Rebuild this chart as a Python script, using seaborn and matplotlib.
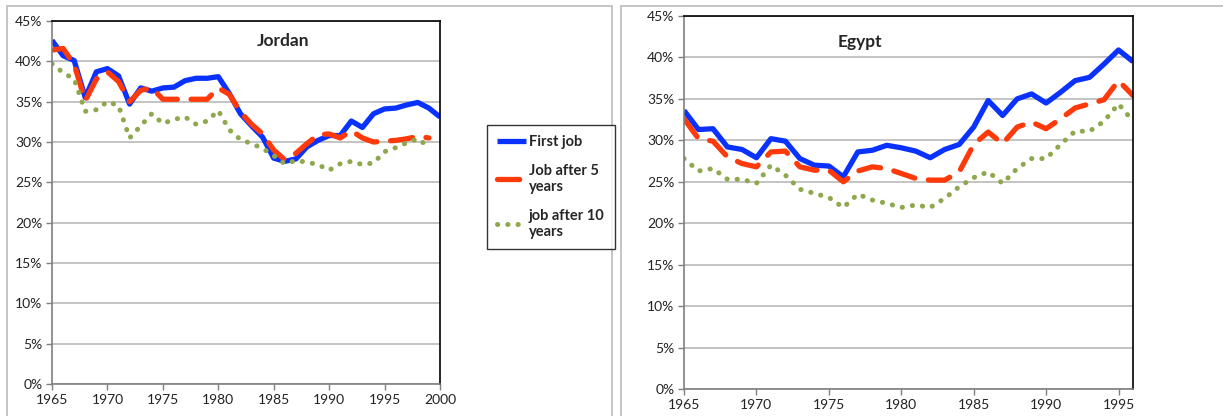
import numpy as np
import pandas as pd
import matplotlib
matplotlib.use("Agg")
import matplotlib.pyplot as plt
import seaborn as sns
from matplotlib.ticker import PercentFormatter
from matplotlib.patches import Rectangle
from matplotlib.lines import Line2D

nan = np.nan

# Jordan, share in % by cohort year
jordan_years = list(range(1965, 2001))
jordan_first = [42.6, 40.7, 40.1, 35.5, 38.7, 39.1, 38.2, 34.7, 36.7, 36.3,
                36.7, 36.8, 37.6, 37.9, 37.9, 38.1, 36.0, 33.5, 32.0, 30.6,
                28.0, 27.6, 27.9, 29.4, 30.2, 30.8, 30.8, 32.6, 31.8, 33.5,
                34.1, 34.2, 34.6, 34.9, 34.2, 33.1]
jordan_after5 = [41.4, 41.6, 39.6, 35.1, 37.8, 38.7, 37.5, 35.0, 36.4, 36.7,
                 35.3, 35.3, 35.3, 35.3, 35.3, 36.7, 35.9, 33.7, 32.2, 31.0,
                 29.0, 27.8, 28.6, 29.8, 30.9, 31.0, 30.5, 31.4, 30.5, 30.0,
                 30.1, 30.2, 30.4, 30.7, 30.5, nan]
jordan_after10 = [39.7, 38.6, 37.8, 33.8, 34.0, 35.0, 34.5, 30.5, 32.0, 33.5,
                  32.3, 32.8, 33.1, 32.2, 32.6, 33.9, 31.5, 30.3, 29.8, 29.2,
                  28.3, 27.3, 27.7, 27.5, 27.2, 26.5, 27.3, 27.6, 27.2, 27.4,
                  28.8, 29.3, 29.9, 30.4, 29.4, nan]

# Egypt
egypt_years = list(range(1965, 1997))
egypt_first = [33.6, 31.3, 31.4, 29.2, 28.9, 27.9, 30.2, 29.9, 27.8, 27.0,
               26.9, 25.6, 28.6, 28.8, 29.4, 29.1, 28.7, 27.9, 28.9, 29.5,
               31.6, 34.8, 33.0, 35.0, 35.6, 34.5, 35.8, 37.2, 37.6, 39.2,
               40.9, 39.5]
egypt_after5 = [32.6, 30.2, 29.9, 28.0, 27.2, 26.8, 28.6, 28.7, 26.8, 26.4,
                26.4, 25.0, 26.3, 26.8, 26.6, 26.0, 25.4, 25.2, 25.2, 26.2,
                29.5, 31.0, 29.6, 31.6, 32.2, 31.4, 32.6, 33.9, 34.4, 34.9,
                37.2, 35.4]
egypt_after10 = [27.8, 26.3, 26.6, 25.3, 25.3, 24.8, 27.0, 25.8, 24.1, 23.6,
                 23.1, 21.9, 23.5, 22.8, 22.4, 21.9, 22.2, 21.9, 23.0, 24.4,
                 25.5, 26.2, 24.8, 26.6, 27.8, 27.8, 29.5, 31.1, 31.1, 32.3,
                 34.4, 32.3]

labels = ["First job", "Job after 5\nyears", "job after 10\nyears"]
colors = ["#0a32ff", "#ff3a0a", "#8fa84e"]
styles = [dict(lw=3.8, linestyle="-", solid_capstyle="butt"),
          dict(lw=3.8, linestyle=(0, (4.2, 2.6)), dash_capstyle="round"),
          dict(lw=3.6, linestyle=(0, (0.05, 2.0)), dash_capstyle="round")]

sns.set_style("white")
plt.rcParams["font.family"] = ["Lato", "DejaVu Sans"]

fig = plt.figure(figsize=(12.23, 4.16), dpi=100)

# outer chart frames
fig.add_artist(Rectangle((7 / 1223, -0.1), (612 - 7) / 1223, 1.1 - 6 / 416,
                         transform=fig.transFigure, fill=False,
                         edgecolor="#c4c4c4", lw=1.4))
fig.add_artist(Rectangle((621 / 1223, -0.1), 0.6, 1.1 - 6 / 416,
                         transform=fig.transFigure, fill=False,
                         edgecolor="#c4c4c4", lw=1.4))

ax1 = fig.add_axes([52 / 1223, 1 - 384 / 416, 388 / 1223, 363 / 416])
ax2 = fig.add_axes([684 / 1223, 1 - 389 / 416, 449 / 1223, 373 / 416])


def draw(ax, years, series, title, tx, ty, xmax):
    for vals, c, st in zip(series, colors, styles):
        df = pd.DataFrame({"year": years, "share": vals}).dropna()
        sns.lineplot(data=df, x="year", y="share", color=c, ax=ax, **st)
    ax.set_xlim(1965, xmax)
    ax.set_ylim(0, 45)
    ax.set_xticks(range(1965, xmax + 1, 5))
    ax.set_yticks(range(0, 46, 5))
    ax.yaxis.set_major_formatter(PercentFormatter(decimals=0))
    ax.grid(axis="y", color="#b4b4b4", lw=1.1)
    ax.set_axisbelow(True)
    ax.set_xlabel("")
    ax.set_ylabel("")
    for s in ["top", "right"]:
        ax.spines[s].set_color("black")
        ax.spines[s].set_linewidth(1.2)
    for s in ["left", "bottom"]:
        ax.spines[s].set_color("#7f7f7f")
        ax.spines[s].set_linewidth(1.2)
    ax.tick_params(axis="both", direction="out", length=4, width=1,
                   color="#7f7f7f", labelsize=10, labelcolor="#222222",
                   left=True, bottom=True, pad=3)
    ax.text(tx, ty, title, transform=ax.transAxes, ha="center", va="center",
            fontsize=12.5, fontweight="bold")


draw(ax1, jordan_years, [jordan_first, jordan_after5, jordan_after10],
     "Jordan", 0.595, 0.945, 2000)
draw(ax2, egypt_years, [egypt_first, egypt_after5, egypt_after10],
     "Egypt", 0.392, 0.93, 1996)

handles = [Line2D([], [], color=c, **st) for c, st in zip(colors, styles)]
leg = fig.legend(handles, labels, loc="upper left",
                 bbox_to_anchor=(487 / 1223, 1 - 125 / 416),
                 frameon=True, fancybox=False, edgecolor="black",
                 prop=dict(weight="bold", size=10.5), handlelength=2.0,
                 handletextpad=0.15, labelspacing=1.0, borderpad=0.7,
                 borderaxespad=0)
leg.get_frame().set_linewidth(1.0)

fig.savefig("out.png", dpi=100)
